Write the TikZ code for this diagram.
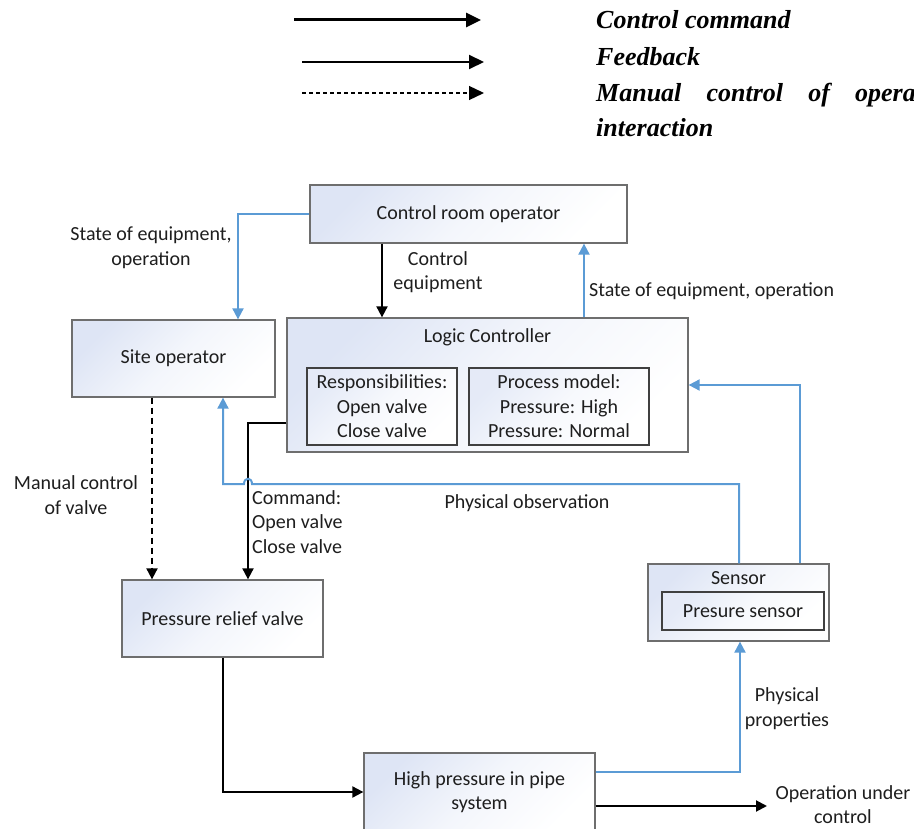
\documentclass[tikz,border=0pt]{standalone}
\usepackage{fontspec}
\setmainfont{Carlito}
\newfontfamily\legfont{Liberation Serif}
\usetikzlibrary{arrows.meta,calc}
\definecolor{boxfill}{RGB}{222,229,245}
\definecolor{boxline}{RGB}{110,110,110}
\definecolor{fbblue}{RGB}{91,155,213}
\definecolor{txt}{RGB}{30,30,30}
\begin{document}
\begin{tikzpicture}[x=1pt,y=-1pt,
  every node/.style={font=\fontsize{20}{24.5}\selectfont, text=txt},
  box/.style={draw=boxline, line width=1.3pt, top color=boxfill, bottom color=white, middle color=boxfill!35, shading angle=45, inner sep=0pt, align=center},
  inbox/.style={draw=black!75, line width=1.1pt, top color=boxfill!80, bottom color=white, middle color=boxfill!25, shading angle=45, inner sep=0pt, align=center},
  cmd/.style={line width=2pt, -{Triangle[length=11pt,width=11pt]}},
  fb/.style={fbblue, line width=2pt, -{Triangle[length=11pt,width=11pt]}},
  man/.style={line width=2pt, dash pattern=on 6pt off 4pt, -{Triangle[length=11pt,width=11pt]}},
  lbl/.style={align=center, inner sep=0pt},
  leg/.style={font=\legfont\bfseries\itshape\fontsize{26}{35}\selectfont, text=black, inner sep=0pt, anchor=base west}]

\clip (0,0) rectangle (914,829);
\fill[white] (0,0) rectangle (914,829);

% legend
\coordinate (l1a) at (294,20); \coordinate (l1b) at (481,20);
\coordinate (l2a) at (302,62); \coordinate (l2b) at (484,62);
\coordinate (l3a) at (302,93); \coordinate (l3b) at (484,93);
\draw[line width=3pt, -{Triangle[length=15pt,width=14pt]}] (l1a) -- (l1b);
\draw[line width=2pt, -{Triangle[length=15pt,width=14pt]}] (l2a) -- (l2b);
\draw[line width=1.3pt, dash pattern=on 4pt off 3pt, -{Triangle[length=15pt,width=14pt]}] (l3a) -- (l3b);
\node[leg] (t1) at (596,29) {Control command};
\node[leg] (t2) at (596,66) {Feedback};
\node[leg] (t3) at (596,102) {\hbox to 350pt{Manual\hfill control\hfill of\hfill operator}};
\node[leg] (t4) at (596,137) {interaction};

% boxes
\node[box, minimum width=317pt, minimum height=58pt] (cro) at (468.5,214) {Control room operator};
\node[box, minimum width=401pt, minimum height=134pt] (lc) at (487.5,385) {};
\node[lbl] (lct) at (487.5,337) {Logic Controller};
\node[inbox, minimum width=150pt, minimum height=77pt] (resp) at (382,406.5) {Responsibilities:\\Open valve\\Close valve};
\node[inbox, minimum width=180pt, minimum height=77pt] (proc) at (559,406.5) {Process model:\\Pressure: High\\Pressure: Normal};
\node[box, minimum width=203pt, minimum height=77pt] (site) at (173.5,358.5) {Site operator};
\node[box, minimum width=181pt, minimum height=77pt] (sens) at (738.5,602.5) {};
\node[lbl] (senst) at (738.5,578) {Sensor};
\node[inbox, minimum width=162pt, minimum height=38pt] (psens) at (743,611) {Presure sensor};
\node[box, minimum width=201pt, minimum height=77pt] (prv) at (222.5,618.5) {Pressure relief valve};
\node[box, minimum width=231pt, minimum height=78pt] (hp) at (479.5,792) {High pressure in pipe\\system};

% guides
\coordinate (gA) at (382,0);
\coordinate (gB) at (584,0);
\coordinate (gC) at (238,0);
\coordinate (gD) at (152,0);
\coordinate (gE) at (248,423);
\coordinate (gF) at (739,484);
\coordinate (gG) at (800,0);
\coordinate (gH) at (223,0);
\coordinate (gI) at (740,772);
\coordinate (gJ) at (767,806);

% connectors
\draw[cmd] (cro.south -| gA) -- (lc.north -| gA);
\draw[fb] (lc.north -| gB) -- (cro.south -| gB);
\draw[fb] (cro.west) -| (site.north -| gC);
\draw[man] (site.south -| gD) -- (prv.north -| gD);
\draw[cmd] (lc.west |- gE) -| (prv.north -| gE);
\draw[fb] (sens.north -| gF) -- (gF) -- ($(gE |- gF)+(4,0)$) .. controls +(0,-7) and +(0,-7) .. ($(gE |- gF)+(-4,0)$) -- (gH |- gF) -- (site.south -| gH);
\draw[fb] (sens.north -| gG) |- (lc.east);
\draw[cmd] (prv.south) |- (hp.west);
\draw[fb] (hp.east |- gI) -| (sens.south -| gI);
\draw[cmd] (hp.east |- gJ) -- (gJ);

% labels
\node[lbl] (lb1) at (438,272) {Control\\equipment};
\node[lbl, anchor=west] (lb2) at (589,291) {State of equipment, operation};
\node[lbl] (lb3) at (151,247.5) {State of equipment,\\operation};
\node[lbl] (lb4) at (76,495) {Manual control\\of valve};
\node[lbl, align=left, anchor=west] (lb5) at (252,522) {Command:\\Open valve\\Close valve};
\node[lbl] (lb6) at (527,503) {Physical observation};
\node[lbl] (lb7) at (787,708.5) {Physical\\properties};
\node[lbl] (lb8) at (843,804.5) {Operation under\\control};
\end{tikzpicture}
\end{document}
